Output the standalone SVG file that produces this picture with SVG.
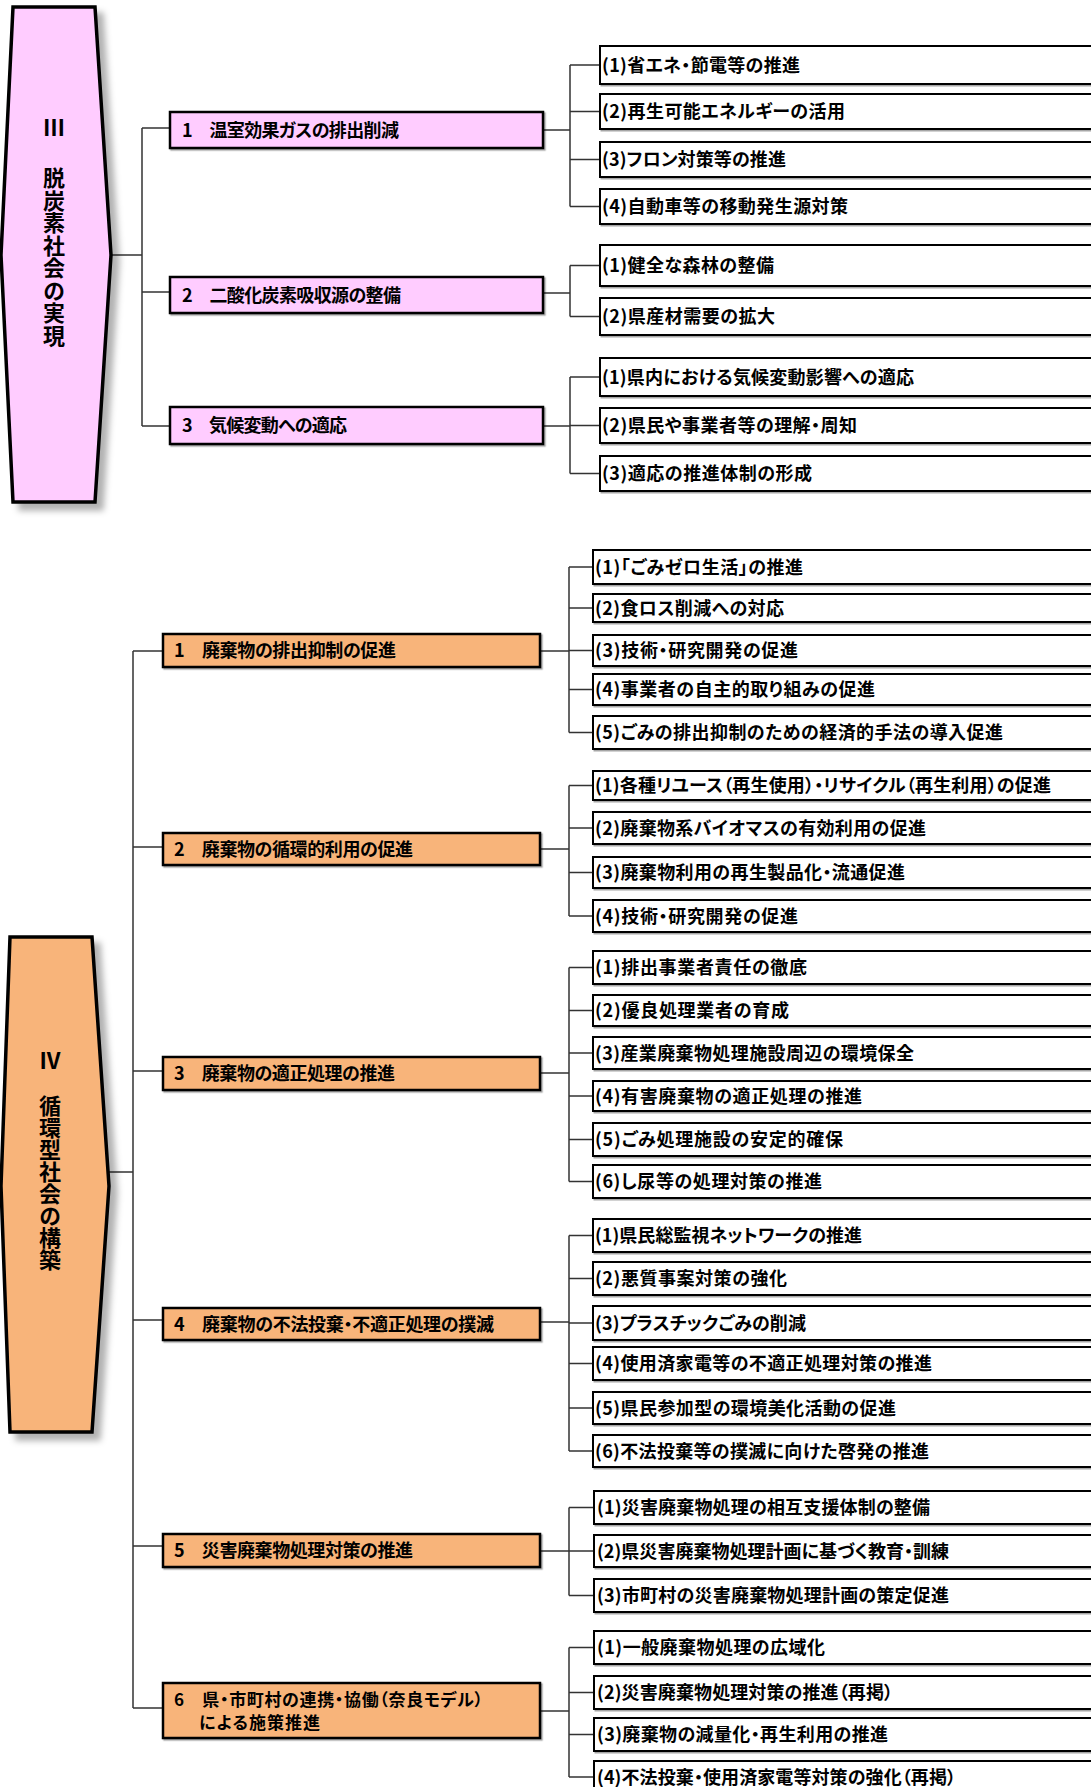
<svg xmlns="http://www.w3.org/2000/svg" width="1091" height="1787" viewBox="0 0 1091 1787">
<style>
  text { font-family: "Noto Sans CJK JP", "Noto Sans", sans-serif; font-weight: bold; fill: #000; font-feature-settings: "palt" 1; }
  .t2 { font-size: 18px; }
  .t2s { font-size: 17px; }
  .tl { font-size: 18px; }
  .tb { font-size: 22px; }
  .banner { stroke: #000; stroke-width: 3.5; stroke-linejoin: miter; }
  .pink { fill: #FFCCFF; }
  .orange { fill: #F8B47A; }
  .lv2 { stroke: #000; stroke-width: 2.5; }
  .leaf { fill: #fff; stroke: #000; stroke-width: 2; }
  .conn { fill: none; stroke: #333; stroke-width: 1.5; }
  .vert { writing-mode: vertical-rl; }
</style>
<defs>
  <filter id="shBig" x="-20%" y="-5%" width="150%" height="115%">
    <feDropShadow dx="7" dy="7" stdDeviation="3" flood-color="#000" flood-opacity="0.3"/>
  </filter>
  <filter id="shSm" x="-5%" y="-20%" width="110%" height="150%">
    <feDropShadow dx="1.5" dy="1.5" stdDeviation="0.6" flood-color="#000" flood-opacity="0.35"/>
  </filter>
</defs>
<rect width="1091" height="1787" fill="#fff"/>

<!-- connectors -->
<g id="connectors" class="conn">
  <!-- III trunk -->
  <path d="M111,255 H142 M142,128 V426 M142,128 H170 M142,292 H170 M142,426 H170"/>
  <!-- III-1 -->
  <path d="M543,130 H570 M570,65 V206.5 M570,65 H600 M570,111.5 H600 M570,159.5 H600 M570,206.5 H600"/>
  <!-- III-2 -->
  <path d="M543,293 H570 M570,265.5 V316.5 M570,265.5 H600 M570,316.5 H600"/>
  <!-- III-3 -->
  <path d="M543,426 H570 M570,377 V473.5 M570,377 H600 M570,425.5 H600 M570,473.5 H600"/>
  <!-- IV trunk -->
  <path d="M109,1172 H133 M133,651 V1708 M133,651 H163 M133,847 H163 M133,1071 H163 M133,1320 H163 M133,1546 H163 M133,1708 H163"/>
  <!-- IV-1 -->
  <path d="M540,651 H569 M569,567 V732.5 M569,567 H593 M569,608 H593 M569,650.5 H593 M569,689.5 H593 M569,732.5 H593"/>
  <!-- IV-2 -->
  <path d="M540,849 H569 M569,785.5 V916 M569,785.5 H593 M569,828 H593 M569,872.5 H593 M569,916 H593"/>
  <!-- IV-3 -->
  <path d="M540,1073 H569 M569,967.5 V1181.5 M569,967.5 H593 M569,1010.5 H593 M569,1053 H593 M569,1096 H593 M569,1139.5 H593 M569,1181.5 H593"/>
  <!-- IV-4 -->
  <path d="M540,1322 H569 M569,1235.5 V1451 M569,1235.5 H593 M569,1278.5 H593 M569,1323 H593 M569,1363.5 H593 M569,1408 H593 M569,1451 H593"/>
  <!-- IV-5 -->
  <path d="M540,1551 H569 M569,1507.5 V1595.5 M569,1507.5 H594 M569,1551 H594 M569,1595.5 H594"/>
  <!-- IV-6 -->
  <path d="M540,1711 H569 M569,1647.5 V1777 M569,1647.5 H594 M569,1692.5 H594 M569,1734.5 H594 M569,1777 H594"/>
</g>

<!-- Section III -->
<g id="sec3">
  <polygon class="banner pink" filter="url(#shBig)" points="13,7 95,7 111,255 95,502 13,502 1,255"/>
  <text class="tb" x="54" y="136" text-anchor="middle">Ⅲ</text>
  <text class="tb vert" x="54" y="167" letter-spacing="0.5">脱炭素社会の実現</text>
</g>

<g id="s3-1">
  <rect class="lv2 pink" filter="url(#shSm)" x="170" y="112" width="373" height="36"/>
  <text class="t2" x="182" y="136.5" textLength="217">1　温室効果ガスの排出削減</text>
</g>
<g id="s3-2">
  <rect class="lv2 pink" filter="url(#shSm)" x="170" y="277" width="373" height="36"/>
  <text class="t2" x="182" y="301.5" textLength="219">2　二酸化炭素吸収源の整備</text>
</g>
<g id="s3-3">
  <rect class="lv2 pink" filter="url(#shSm)" x="170" y="407" width="373" height="37"/>
  <text class="t2" x="182" y="432" textLength="165">3　気候変動への適応</text>
</g>

<g id="s3-1-leaves">
  <rect class="leaf" filter="url(#shSm)" x="600" y="46" width="520" height="38"/>
  <text class="tl" x="602" y="71.5" textLength="198">(1)省エネ・節電等の推進</text>
  <rect class="leaf" filter="url(#shSm)" x="600" y="94" width="520" height="35"/>
  <text class="tl" x="602" y="118" textLength="243">(2)再生可能エネルギーの活用</text>
  <rect class="leaf" filter="url(#shSm)" x="600" y="142" width="520" height="35"/>
  <text class="tl" x="602" y="166" textLength="184">(3)フロン対策等の推進</text>
  <rect class="leaf" filter="url(#shSm)" x="600" y="189" width="520" height="35"/>
  <text class="tl" x="602" y="213" textLength="246">(4)自動車等の移動発生源対策</text>
</g>
<g id="s3-2-leaves">
  <rect class="leaf" filter="url(#shSm)" x="600" y="245" width="520" height="41"/>
  <text class="tl" x="602" y="272" textLength="172">(1)健全な森林の整備</text>
  <rect class="leaf" filter="url(#shSm)" x="600" y="298" width="520" height="37"/>
  <text class="tl" x="602" y="323" textLength="173">(2)県産材需要の拡大</text>
</g>
<g id="s3-3-leaves">
  <rect class="leaf" filter="url(#shSm)" x="600" y="358" width="520" height="38"/>
  <text class="tl" x="602" y="383.5" textLength="312">(1)県内における気候変動影響への適応</text>
  <rect class="leaf" filter="url(#shSm)" x="600" y="408" width="520" height="35"/>
  <text class="tl" x="602" y="432" textLength="255">(2)県民や事業者等の理解・周知</text>
  <rect class="leaf" filter="url(#shSm)" x="600" y="456" width="520" height="35"/>
  <text class="tl" x="602" y="480" textLength="210">(3)適応の推進体制の形成</text>
</g>

<!-- Section IV -->
<g id="sec4">
  <polygon class="banner orange" filter="url(#shBig)" points="10,937 92,937 109,1186 92,1432 10,1432 1,1186"/>
  <text class="tb" x="50" y="1069" text-anchor="middle">Ⅳ</text>
  <text class="tb vert" x="50" y="1095">循環型社会の構築</text>
</g>

<g id="s4-1">
  <rect class="lv2 orange" filter="url(#shSm)" x="163" y="634" width="377" height="33"/>
  <text class="t2" x="174" y="657" textLength="222">1　廃棄物の排出抑制の促進</text>
</g>
<g id="s4-2">
  <rect class="lv2 orange" filter="url(#shSm)" x="163" y="833" width="377" height="32"/>
  <text class="t2" x="174" y="855.5" textLength="239">2　廃棄物の循環的利用の促進</text>
</g>
<g id="s4-3">
  <rect class="lv2 orange" filter="url(#shSm)" x="163" y="1057" width="377" height="33"/>
  <text class="t2" x="174" y="1080" textLength="221">3　廃棄物の適正処理の推進</text>
</g>
<g id="s4-4">
  <rect class="lv2 orange" filter="url(#shSm)" x="163" y="1308" width="377" height="32"/>
  <text class="t2" x="174" y="1330.5" textLength="320">4　廃棄物の不法投棄・不適正処理の撲滅</text>
</g>
<g id="s4-5">
  <rect class="lv2 orange" filter="url(#shSm)" x="163" y="1534" width="377" height="33"/>
  <text class="t2" x="174" y="1557" textLength="239">5　災害廃棄物処理対策の推進</text>
</g>
<g id="s4-6">
  <rect class="lv2 orange" filter="url(#shSm)" x="163" y="1683" width="377" height="55"/>
  <text class="t2s" x="174" y="1705.5" textLength="309">6　県・市町村の連携・協働（奈良モデル）</text>
  <text class="t2s" x="199" y="1728.5" textLength="121">による施策推進</text>
</g>

<g id="s4-1-leaves">
  <rect class="leaf" filter="url(#shSm)" x="593" y="550" width="530" height="34"/>
  <text class="tl" x="595" y="573.5" textLength="208">(1)「ごみゼロ生活」の推進</text>
  <rect class="leaf" filter="url(#shSm)" x="593" y="594" width="530" height="28"/>
  <text class="tl" x="595" y="614.5" textLength="189">(2)食ロス削減への対応</text>
  <rect class="leaf" filter="url(#shSm)" x="593" y="635" width="530" height="31"/>
  <text class="tl" x="595" y="657" textLength="203">(3)技術・研究開発の促進</text>
  <rect class="leaf" filter="url(#shSm)" x="593" y="674" width="530" height="31"/>
  <text class="tl" x="595" y="696" textLength="280">(4)事業者の自主的取り組みの促進</text>
  <rect class="leaf" filter="url(#shSm)" x="593" y="716" width="530" height="33"/>
  <text class="tl" x="595" y="739" textLength="408">(5)ごみの排出抑制のための経済的手法の導入促進</text>
</g>
<g id="s4-2-leaves">
  <rect class="leaf" filter="url(#shSm)" x="593" y="771" width="530" height="29"/>
  <text class="tl" x="595" y="792" textLength="456">(1)各種リユース（再生使用）・リサイクル（再生利用）の促進</text>
  <rect class="leaf" filter="url(#shSm)" x="593" y="812" width="530" height="32"/>
  <text class="tl" x="595" y="834.5" textLength="331">(2)廃棄物系バイオマスの有効利用の促進</text>
  <rect class="leaf" filter="url(#shSm)" x="593" y="857" width="530" height="31"/>
  <text class="tl" x="595" y="879" textLength="310">(3)廃棄物利用の再生製品化・流通促進</text>
  <rect class="leaf" filter="url(#shSm)" x="593" y="900" width="530" height="32"/>
  <text class="tl" x="595" y="922.5" textLength="203">(4)技術・研究開発の促進</text>
</g>
<g id="s4-3-leaves">
  <rect class="leaf" filter="url(#shSm)" x="593" y="951" width="530" height="33"/>
  <text class="tl" x="595" y="974" textLength="212">(1)排出事業者責任の徹底</text>
  <rect class="leaf" filter="url(#shSm)" x="593" y="995" width="530" height="31"/>
  <text class="tl" x="595" y="1017" textLength="194">(2)優良処理業者の育成</text>
  <rect class="leaf" filter="url(#shSm)" x="593" y="1037" width="530" height="32"/>
  <text class="tl" x="595" y="1059.5" textLength="319">(3)産業廃棄物処理施設周辺の環境保全</text>
  <rect class="leaf" filter="url(#shSm)" x="593" y="1081" width="530" height="30"/>
  <text class="tl" x="595" y="1102.5" textLength="267">(4)有害廃棄物の適正処理の推進</text>
  <rect class="leaf" filter="url(#shSm)" x="593" y="1123" width="530" height="33"/>
  <text class="tl" x="595" y="1146" textLength="248">(5)ごみ処理施設の安定的確保</text>
  <rect class="leaf" filter="url(#shSm)" x="593" y="1165" width="530" height="33"/>
  <text class="tl" x="595" y="1188" textLength="227">(6)し尿等の処理対策の推進</text>
</g>
<g id="s4-4-leaves">
  <rect class="leaf" filter="url(#shSm)" x="593" y="1219" width="530" height="33"/>
  <text class="tl" x="595" y="1242" textLength="267">(1)県民総監視ネットワークの推進</text>
  <rect class="leaf" filter="url(#shSm)" x="593" y="1262" width="530" height="33"/>
  <text class="tl" x="595" y="1285" textLength="192">(2)悪質事案対策の強化</text>
  <rect class="leaf" filter="url(#shSm)" x="593" y="1306" width="530" height="34"/>
  <text class="tl" x="595" y="1329.5" textLength="211">(3)プラスチックごみの削減</text>
  <rect class="leaf" filter="url(#shSm)" x="593" y="1347" width="530" height="33"/>
  <text class="tl" x="595" y="1370" textLength="337">(4)使用済家電等の不適正処理対策の推進</text>
  <rect class="leaf" filter="url(#shSm)" x="593" y="1392" width="530" height="32"/>
  <text class="tl" x="595" y="1414.5" textLength="301">(5)県民参加型の環境美化活動の促進</text>
  <rect class="leaf" filter="url(#shSm)" x="593" y="1435" width="530" height="32"/>
  <text class="tl" x="595" y="1457.5" textLength="334">(6)不法投棄等の撲滅に向けた啓発の推進</text>
</g>
<g id="s4-5-leaves">
  <rect class="leaf" filter="url(#shSm)" x="594" y="1491" width="530" height="33"/>
  <text class="tl" x="597" y="1514" textLength="333">(1)災害廃棄物処理の相互支援体制の整備</text>
  <rect class="leaf" filter="url(#shSm)" x="594" y="1535" width="530" height="32"/>
  <text class="tl" x="597" y="1557.5" textLength="352">(2)県災害廃棄物処理計画に基づく教育・訓練</text>
  <rect class="leaf" filter="url(#shSm)" x="594" y="1579" width="530" height="33"/>
  <text class="tl" x="597" y="1602" textLength="352">(3)市町村の災害廃棄物処理計画の策定促進</text>
</g>
<g id="s4-6-leaves">
  <rect class="leaf" filter="url(#shSm)" x="594" y="1631" width="530" height="33"/>
  <text class="tl" x="597" y="1654" textLength="228">(1)一般廃棄物処理の広域化</text>
  <rect class="leaf" filter="url(#shSm)" x="594" y="1676" width="530" height="33"/>
  <text class="tl" x="597" y="1699" textLength="296">(2)災害廃棄物処理対策の推進（再掲）</text>
  <rect class="leaf" filter="url(#shSm)" x="594" y="1718" width="530" height="33"/>
  <text class="tl" x="597" y="1741" textLength="291">(3)廃棄物の減量化・再生利用の推進</text>
  <rect class="leaf" filter="url(#shSm)" x="594" y="1761" width="530" height="40"/>
  <text class="tl" x="597" y="1783.5" textLength="359">(4)不法投棄・使用済家電等対策の強化（再掲）</text>
</g>
</svg>
